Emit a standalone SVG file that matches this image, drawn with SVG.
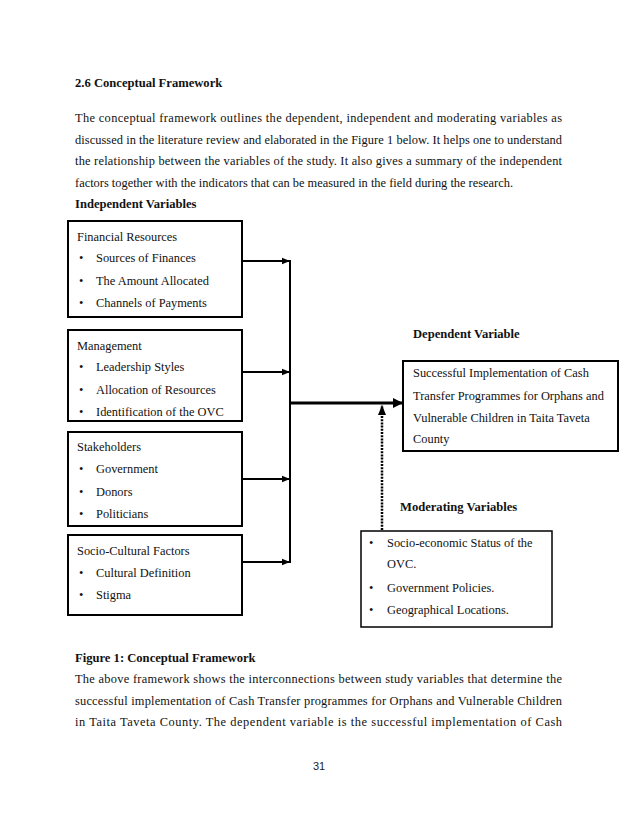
<svg xmlns="http://www.w3.org/2000/svg" width="638" height="826" viewBox="0 0 638 826">
<defs>
<style>
text{font-family:"Liberation Serif","Times New Roman",serif;fill:#111;}
.p{font-size:12.4px;}
.h{font-size:12.6px;font-weight:bold;}
.b{font-size:12.4px;}
.box{fill:#fff;stroke:#000;stroke-width:2;}
.mbox{fill:#fff;stroke:#000;stroke-width:1.5;}
.ln{fill:none;stroke:#000;stroke-width:2;}
.pg{font-family:"Liberation Sans",Arial,sans-serif;font-size:11px;fill:#222;}
</style>
<marker id="ah" viewBox="0 0 10 10" refX="10" refY="5" markerWidth="4" markerHeight="4" orient="auto" markerUnits="strokeWidth"><path d="M0,1 L10,5 L0,9 z" fill="#000"/></marker>
<marker id="ahb" viewBox="0 0 10 10" refX="10" refY="5" markerWidth="3.5" markerHeight="3.5" orient="auto" markerUnits="strokeWidth"><path d="M0,0 L10,5 L0,10 z" fill="#000"/></marker>
<marker id="ahs" viewBox="0 0 10 10" refX="10" refY="5" markerWidth="4" markerHeight="4" orient="auto" markerUnits="strokeWidth"><path d="M0,1 L10,5 L0,9 z" fill="#000"/></marker>
</defs>
<rect width="638" height="826" fill="#fff"/>

<g id="header">
<text class="h" x="75" y="87">2.6 Conceptual Framework</text>
<text class="p" x="75" y="122" textLength="487" lengthAdjust="spacing">The conceptual framework outlines the dependent, independent and moderating variables as</text>
<text class="p" x="75" y="143.5" textLength="487" lengthAdjust="spacing">discussed in the literature review and elaborated in the Figure 1 below. It helps one to understand</text>
<text class="p" x="75" y="165" textLength="487" lengthAdjust="spacing">the relationship between the variables of the study. It also gives a summary of the independent</text>
<text class="p" x="75" y="187">factors together with the indicators that can be measured in the field during the research.</text>
<text class="h" x="75" y="208">Independent Variables</text>
</g>

<g id="connectors">
<line class="ln" x1="242" y1="261" x2="290" y2="261" marker-end="url(#ah)"/>
<line class="ln" x1="242" y1="372" x2="290" y2="372" marker-end="url(#ah)"/>
<line class="ln" x1="242" y1="479" x2="290" y2="479" marker-end="url(#ah)"/>
<line class="ln" x1="242" y1="562" x2="290" y2="562" marker-end="url(#ah)"/>
<line class="ln" x1="290" y1="260" x2="290" y2="563"/>
<line x1="290" y1="403" x2="403" y2="403" stroke="#000" stroke-width="3" marker-end="url(#ahb)"/>
<line x1="382" y1="530" x2="382" y2="405" stroke="#000" stroke-width="2.5" stroke-dasharray="2 1.2" marker-end="url(#ahs)"/>
</g>

<g id="financial">
<rect class="box" x="68" y="221" width="174" height="96"/>
<text class="b" x="77" y="241">Financial Resources</text>
<text class="b" x="79" y="262">•</text><text class="b" x="96" y="262">Sources of Finances</text>
<text class="b" x="79" y="285">•</text><text class="b" x="96" y="285">The Amount  Allocated</text>
<text class="b" x="79" y="307">•</text><text class="b" x="96" y="307">Channels of Payments</text>
</g>

<g id="management">
<rect class="box" x="68" y="330" width="174" height="91"/>
<text class="b" x="77" y="350">Management</text>
<text class="b" x="79" y="371">•</text><text class="b" x="96" y="371">Leadership Styles</text>
<text class="b" x="79" y="394">•</text><text class="b" x="96" y="394">Allocation of Resources</text>
<text class="b" x="79" y="416">•</text><text class="b" x="96" y="416">Identification of the OVC</text>
</g>

<g id="stakeholders">
<rect class="box" x="68" y="432" width="174" height="94"/>
<text class="b" x="77" y="451">Stakeholders</text>
<text class="b" x="79" y="473">•</text><text class="b" x="96" y="473">Government</text>
<text class="b" x="79" y="496">•</text><text class="b" x="96" y="496">Donors</text>
<text class="b" x="79" y="518">•</text><text class="b" x="96" y="518">Politicians</text>
</g>

<g id="sociocultural">
<rect class="box" x="68" y="535" width="174" height="80"/>
<text class="b" x="77" y="555">Socio-Cultural Factors</text>
<text class="b" x="79" y="577">•</text><text class="b" x="96" y="577">Cultural Definition</text>
<text class="b" x="79" y="599">•</text><text class="b" x="96" y="599">Stigma</text>
</g>

<g id="dependent">
<text class="h" x="413" y="338">Dependent Variable</text>
<rect class="box" x="403" y="361" width="215" height="90"/>
<text class="b" x="413" y="377">Successful Implementation of Cash</text>
<text class="b" x="413" y="400">Transfer Programmes for Orphans and</text>
<text class="b" x="413" y="422">Vulnerable Children in Taita Taveta</text>
<text class="b" x="413" y="443">County</text>
</g>

<g id="moderating">
<text class="h" x="400" y="511">Moderating Variables</text>
<rect class="mbox" x="361" y="531" width="191" height="96"/>
<text class="b" x="369" y="547">•</text><text class="b" x="387" y="547">Socio-economic Status of the</text>
<text class="b" x="387" y="568">OVC.</text>
<text class="b" x="369" y="592">•</text><text class="b" x="387" y="592">Government Policies.</text>
<text class="b" x="369" y="614">•</text><text class="b" x="387" y="614">Geographical Locations.</text>
</g>

<g id="footer">
<text class="h" x="75" y="662">Figure 1: Conceptual Framework</text>
<text class="p" x="75" y="683" textLength="487" lengthAdjust="spacing">The above framework shows the interconnections between study variables that determine the</text>
<text class="p" x="75" y="705" textLength="487" lengthAdjust="spacing">successful implementation of Cash Transfer programmes for Orphans and Vulnerable Children</text>
<text class="p" x="75" y="726" textLength="487" lengthAdjust="spacing">in Taita Taveta County. The dependent variable is the successful implementation of Cash</text>
<text class="pg" x="319" y="770" text-anchor="middle">31</text>
</g>
</svg>
